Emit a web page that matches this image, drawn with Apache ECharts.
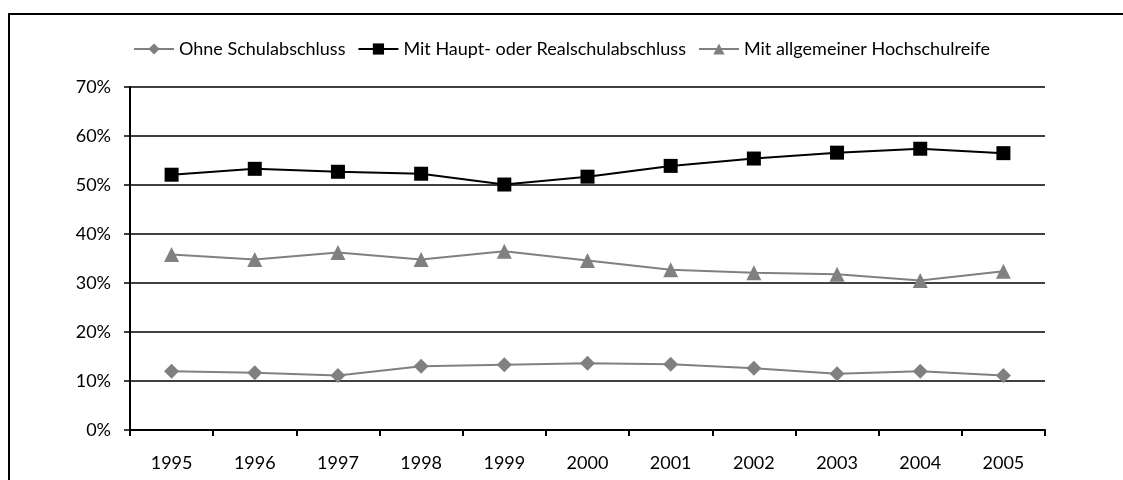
<!DOCTYPE html>
<html>
<head>
<meta charset="utf-8">
<script src="https://cdn.jsdelivr.net/npm/echarts@6/dist/echarts.min.js"></script>
<style>
  html, body { margin: 0; padding: 0; background: #fff; }
  #chart { width: 1123px; height: 480px; }
</style>
</head>
<body>
<div id="chart"></div>
<script>
// Jahre
const years = ["1995", "1996", "1997", "1998", "1999", "2000", "2001", "2002", "2003", "2004", "2005"];
// Anteile in Prozent
const ohneAbschluss = [12.0, 11.7, 11.1, 13.0, 13.3, 13.6, 13.4, 12.6, 11.5, 12.0, 11.1];
const hauptReal = [52.1, 53.3, 52.7, 52.3, 50.1, 51.7, 53.9, 55.4, 56.6, 57.4, 56.5];
const hochschulreife = [35.8, 34.8, 36.2, 34.8, 36.5, 34.6, 32.7, 32.1, 31.8, 30.5, 32.4];
const seriesNames = ["Ohne Schulabschluss", "Mit Haupt- oder Realschulabschluss", "Mit allgemeiner Hochschulreife"];

const chart = echarts.init(document.getElementById("chart"));
const font = "Lato, 'Open Sans', sans-serif";

chart.setOption({
  animation: false,
  textStyle: { fontFamily: font },
  legend: {
    top: 35,
    left: "center",
    itemWidth: 40,
    itemHeight: 14,
    itemGap: 12,
    textStyle: { fontSize: 18, color: "#000", fontFamily: font },
    data: seriesNames
  },
  graphic: [{
    type: "polyline",
    shape: { points: [[9, 480], [9, 14], [1123, 14]] },
    style: { stroke: "#000", lineWidth: 2, fill: null }
  }],
  grid: { left: 130, right: 78, top: 87, bottom: 50 },
  xAxis: {
    type: "category",
    data: years,
    boundaryGap: true,
    axisLine: { lineStyle: { color: "#000", width: 2 } },
    axisTick: { show: true, length: 6, lineStyle: { color: "#000", width: 2 } },
    axisLabel: { color: "#000", fontSize: 18, margin: 24, fontFamily: font }
  },
  yAxis: {
    type: "value",
    min: 0,
    max: 70,
    interval: 10,
    axisLine: { show: true, lineStyle: { color: "#000", width: 2 } },
    axisTick: { show: true, length: 6, lineStyle: { color: "#000", width: 1.5 } },
    axisLabel: { color: "#000", fontSize: 18, margin: 19, formatter: "{value}%", fontFamily: font },
    splitLine: { show: true, lineStyle: { color: "#000", width: 1.5 } }
  },
  series: [
    {
      name: seriesNames[0],
      type: "line",
      data: ohneAbschluss,
      symbol: "diamond",
      symbolSize: 15,
      itemStyle: { color: "#808080" },
      lineStyle: { color: "#808080", width: 2 }
    },
    {
      name: seriesNames[1],
      type: "line",
      data: hauptReal,
      symbol: "rect",
      symbolSize: 14,
      itemStyle: { color: "#000" },
      lineStyle: { color: "#000", width: 2 }
    },
    {
      name: seriesNames[2],
      type: "line",
      data: hochschulreife,
      symbol: "triangle",
      symbolSize: 15,
      itemStyle: { color: "#808080" },
      lineStyle: { color: "#808080", width: 2 }
    }
  ]
});
</script>
</body>
</html>
